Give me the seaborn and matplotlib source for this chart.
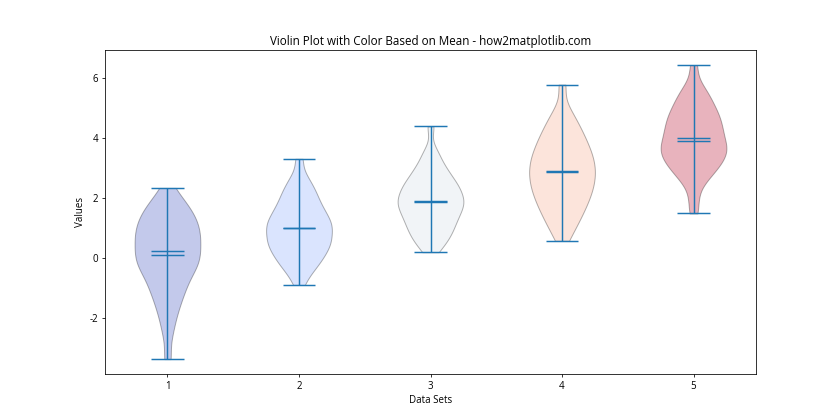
import matplotlib
matplotlib.use("Agg")
import numpy as np
import pandas as pd
import matplotlib.pyplot as plt
import seaborn as sns

plt.rcParams['font.family'] = ['Open Sans', 'DejaVu Sans']
plt.rcParams['axes.unicode_minus'] = False

labels = ['1', '2', '3', '4', '5']

set1 = [-3.37, -2.55, -2.10, -1.80, -1.55, -1.35, -1.17, -1.02, -0.88, -0.75,
        -0.60, -0.48, -0.39, -0.30, -0.21, -0.12, -0.06, 0.02, 0.11, 0.19,
        0.27, 0.38, 0.46, 0.54, 0.62, 0.71, 0.79, 0.87, 0.95, 1.03,
        1.13, 1.22, 1.31, 1.40, 1.49, 1.61, 1.74, 1.87, 2.00, 2.33]
set2 = [-0.90, -0.58, -0.41, -0.29, -0.19, -0.07, 0.02, 0.09, 0.17, 0.25,
        0.33, 0.40, 0.47, 0.52, 0.59, 0.65, 0.71, 0.78, 0.84, 0.96,
        1.02, 1.03, 1.10, 1.16, 1.22, 1.30, 1.38, 1.45, 1.53, 1.61,
        1.69, 1.79, 1.90, 2.01, 2.12, 2.25, 2.36, 2.55, 2.75, 3.30]
set3 = [0.19, 0.38, 0.52, 0.63, 0.73, 0.83, 0.92, 1.00, 1.08, 1.17,
        1.25, 1.32, 1.39, 1.46, 1.53, 1.60, 1.66, 1.72, 1.78, 1.84,
        1.88, 1.94, 2.00, 2.06, 2.12, 2.19, 2.26, 2.33, 2.41, 2.46,
        2.50, 2.61, 2.71, 2.82, 2.90, 3.02, 3.18, 3.38, 3.60, 4.38]
set4 = [0.57, 0.90, 1.07, 1.24, 1.41, 1.52, 1.64, 1.75, 1.86, 1.97,
        2.06, 2.15, 2.24, 2.32, 2.41, 2.50, 2.58, 2.66, 2.74, 2.82,
        2.90, 2.98, 3.06, 3.14, 3.23, 3.31, 3.40, 3.48, 3.57, 3.66,
        3.77, 3.88, 3.99, 4.10, 4.21, 4.38, 4.54, 4.70, 4.99, 5.77]
set5 = [1.48, 1.95, 2.40, 2.60, 2.76, 2.86, 2.96, 3.05, 3.14, 3.23,
        3.29, 3.36, 3.43, 3.50, 3.56, 3.63, 3.70, 3.76, 3.83, 3.87,
        3.93, 4.08, 4.15, 4.21, 4.28, 4.35, 4.42, 4.53, 4.61, 4.70,
        4.78, 4.86, 4.94, 5.07, 5.19, 5.32, 5.44, 5.58, 5.83, 6.42]

sets = [set1, set2, set3, set4, set5]

df = pd.DataFrame({
    'set': np.repeat(labels, [len(s) for s in sets]),
    'value': np.concatenate([np.asarray(s, float) for s in sets]),
})

means = [float(np.mean(s)) for s in sets]
medians = [float(np.median(s)) for s in sets]
norm = plt.Normalize(min(means), max(means))
palette = {lab: plt.cm.coolwarm(norm(m)) for lab, m in zip(labels, means)}

fig, ax = plt.subplots(figsize=(12, 6), dpi=70)
sns.violinplot(data=df, x='set', y='value', hue='set', palette=palette,
               legend=False, inner=None, cut=0, density_norm='width',
               width=0.5, bw_method=0.3, saturation=1, linecolor='black',
               linewidth=1, alpha=0.3, ax=ax)

for i, s in enumerate(sets):
    lo, hi = min(s), max(s)
    ax.vlines(i, lo, hi, color='C0', lw=1.5)
    ax.hlines([lo, hi, means[i], medians[i]], i - 0.125, i + 0.125,
              color='C0', lw=1.5)

allv = df['value']
pad = 0.05 * (allv.max() - allv.min())
ax.set_ylim(allv.min() - pad, allv.max() + pad)
ax.set_xlim(-0.475, 4.475)
ax.set_title('Violin Plot with Color Based on Mean - how2matplotlib.com', fontsize=12)
ax.set_xlabel('Data Sets', fontsize=10)
ax.set_ylabel('Values', fontsize=10)

fig.savefig('out.png', dpi=70)
